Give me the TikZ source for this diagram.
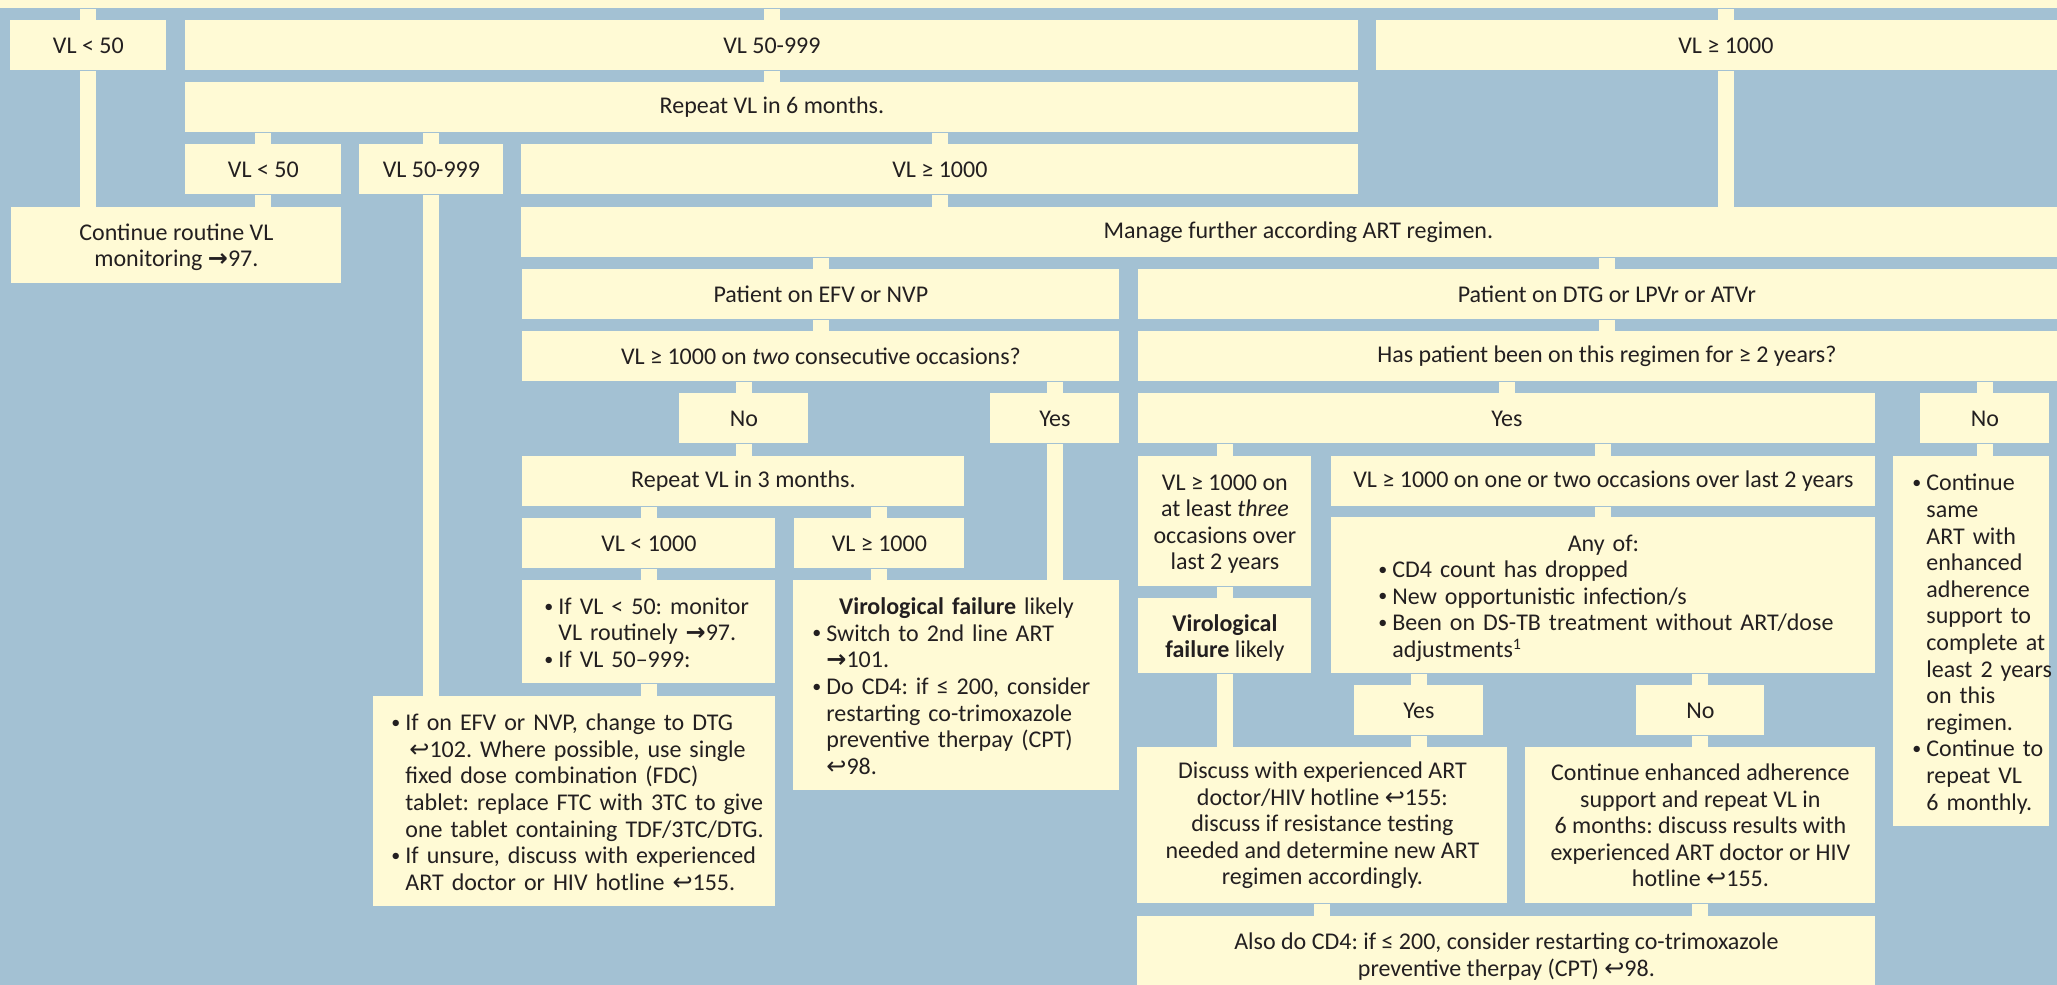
\documentclass[tikz,border=0pt]{standalone}
\usepackage{fontspec}
\setmainfont{Carlito}
\newfontfamily\arrowfont{DejaVu Sans}
\usepackage{tikz}
\usetikzlibrary{calc}
\definecolor{sky}{HTML}{A3C1D3}
\definecolor{cream}{HTML}{FFFAD5}
\definecolor{ink}{HTML}{231F20}
\frenchspacing
\newcommand{\seeto}{{\arrowfont\bfseries →}}
\newcommand{\backto}{{\arrowfont ↩}}
\newcommand{\bul}{\raisebox{0.2ex}{\fontsize{9}{9}\selectfont\textbullet}}
\newcommand{\points}[1]{\begin{tabular}[t]{@{}p{7pt}@{}l@{}}#1\end{tabular}}
\newcommand{\lift}[1]{\rule{0pt}{#1}}

\begin{document}
\begin{tikzpicture}[x=0.5pt,y=-0.5pt,
  cell/.style={fill=cream,text=ink,inner sep=0pt,anchor=north west,align=center,
    font=\fontsize{12}{13.3}\selectfont},
  sz/.style 2 args={minimum width=#1*0.5pt,minimum height=#2*0.5pt},
  list/.style={align=left,text width=#1*0.5pt,execute at begin node=\lift{13pt}},
  link/.style={draw=cream,line width=8pt}]
  \useasboundingbox (0,0) rectangle (2057,985);
  \fill[sky] (0,0) rectangle (2057,985);
  \clip (0,0) rectangle (2057,985);
  % box running off the top
  \node[cell,sz={2100}{48}] (entry) at (-20,-40) {};
  % first split on the viral load
  \node[cell,sz={156}{50}] (lowA) at (10,20) {VL < 50};
  \node[cell,sz={1173}{50}] (midA) at (185,20) {VL 50-999};
  \node[cell,sz={699}{50}] (highA) at (1376,20) {VL ≥ 1000};
  \node[cell,sz={1173}{50}] (rep6) at (185,82) {Repeat VL in 6 months.};
  \node[cell,sz={156}{50}] (lowB) at (185,144) {VL < 50};
  \node[cell,sz={144}{50}] (midB) at (359,144) {VL 50-999};
  \node[cell,sz={837}{50}] (highB) at (521,144) {VL ≥ 1000};
  \node[cell,sz={330}{76}] (routine) at (11,207) {\lift{10pt}Continue routine VL\\monitoring \seeto97.};
  \node[cell,sz={1554}{50}] (manage) at (521,207) {Manage further according ART regimen.};
  % left: EFV or NVP
  \node[cell,sz={597}{50}] (efv) at (522,269) {Patient on EFV or NVP};
  \node[cell,sz={597}{50}] (twice) at (522,331) {VL ≥ 1000 on \textit{two} consecutive occasions?};
  \node[cell,sz={129}{50}] (noA) at (679,393) {No};
  \node[cell,sz={129}{50}] (yesA) at (990,393) {Yes};
  \node[cell,sz={442}{50}] (rep3) at (522,456) {Repeat VL in 3 months.};
  \node[cell,sz={253}{50}] (lowC) at (522,518) {VL < 1000};
  \node[cell,sz={170}{50}] (highC) at (794,518) {VL ≥ 1000};
  \node[cell,sz={253}{103},list=209] (ifless) at (522,580)
    {\points{\bul & If VL < 50: monitor\\ & VL routinely \seeto97.\\ \bul & If VL 50–999:}};
  \node[cell,sz={326}{210},list=288] (failA) at (793,580)
    {{\centering\textbf{Virological failure} likely\par}
     \noindent\points{\bul & Switch to 2nd line ART\\ & \seeto101.\\
       \bul & Do CD4: if ≤ 200, consider\\ & restarting co-trimoxazole\\
       & preventive therpay (CPT)\\ & \backto98.}};
  \node[cell,sz={402}{210},list=366] (switch) at (373,696)
    {\points{\bul & If on EFV or NVP, change to DTG\\
       & \hspace{2pt}\backto102. Where possible, use single\\
       & fixed dose combination (FDC)\\ & tablet: replace FTC with 3TC to give\\
       & one tablet containing TDF/3TC/DTG.\\
       \bul & If unsure, discuss with experienced\\ & ART doctor or HIV hotline \backto155.}};
  % right: DTG or LPVr or ATVr
  \node[cell,sz={937}{50}] (dtg) at (1138,269) {Patient on DTG or LPVr or ATVr};
  \node[cell,sz={937}{50}] (span) at (1138,331) {Has patient been on this regimen for ≥ 2 years?};
  \node[cell,sz={737}{50}] (yesB) at (1138,393) {Yes};
  \node[cell,sz={129}{50}] (noB) at (1920,393) {No};
  \node[cell,sz={173}{130}] (three) at (1138,456) {\lift{10.5pt}VL ≥ 1000 on\\at least \textit{three}\\occasions over\\last 2 years};
  \node[cell,sz={544}{50}] (onetwo) at (1331,456) {VL ≥ 1000 on one or two occasions over last 2 years};
  \node[cell,sz={156}{370},list=118] (stay) at (1893,456)
    {\points{\bul & Continue\\ & same\\ & ART with\\ & enhanced\\ & adherence\\
       & support to\\ & complete at\\ & least 2 years\\ & on this\\ & regimen.\\
       \bul & Continue to\\ & repeat VL\\ & 6 monthly.}};
  \node[cell,sz={544}{156},list=450] (anyof) at (1331,517)
    {{\centering Any of:\par}
     \noindent\points{\bul & CD4 count has dropped\\ \bul & New opportunistic infection/s\\
       \bul & Been on DS-TB treatment without ART/dose\\ & adjustments\textsuperscript{1}}};
  \node[cell,sz={173}{75}] (failB) at (1138,598) {\lift{10.5pt}\textbf{Virological}\\\textbf{failure} likely};
  \node[cell,sz={129}{50}] (yesC) at (1354,685) {Yes};
  \node[cell,sz={128}{50}] (noC) at (1636,685) {No};
  \node[cell,sz={370}{156}] (discuss) at (1137,747)
    {Discuss with experienced ART\\doctor/HIV hotline \backto155:\\discuss if resistance testing\\needed and determine new ART\\regimen accordingly.};
  \node[cell,sz={350}{156}] (enhance) at (1525,747)
    {Continue enhanced adherence\\support and repeat VL in\\6 months: discuss results with\\experienced ART doctor or HIV\\hotline \backto155.};
  \node[cell,sz={738}{80}] (cd4) at (1137,916)
    {Also do CD4: if ≤ 200, consider restarting co-trimoxazole\\preventive therpay (CPT) \backto98.};
  % links that drop onto the middle of the lower box
  \foreach \a/\b in {entry/lowA,entry/midA,entry/highA,midA/rep6,rep6/lowB,rep6/midB,rep6/highB,
      manage/efv,manage/dtg,efv/twice,dtg/span,twice/noA,twice/yesA,span/yesB,span/noB,
      yesB/three,yesB/onetwo,rep3/lowC,rep3/highC,onetwo/anyof,lowC/ifless,three/failB,
      anyof/yesC,anyof/noC}
    \draw[link] (\b.north |- \a.south) -- (\b.north);
  % links that leave from the middle of the upper box
  \foreach \a/\b in {lowA/routine,lowB/routine,midB/switch,highA/manage,highB/manage,
      noA/rep3,yesA/failA,noB/stay,highC/failA,ifless/switch,failB/discuss,yesC/discuss,
      noC/enhance,discuss/cd4,enhance/cd4}
    \draw[link] (\a.south) -- (\a.south |- \b.north);
\end{tikzpicture}
\end{document}
